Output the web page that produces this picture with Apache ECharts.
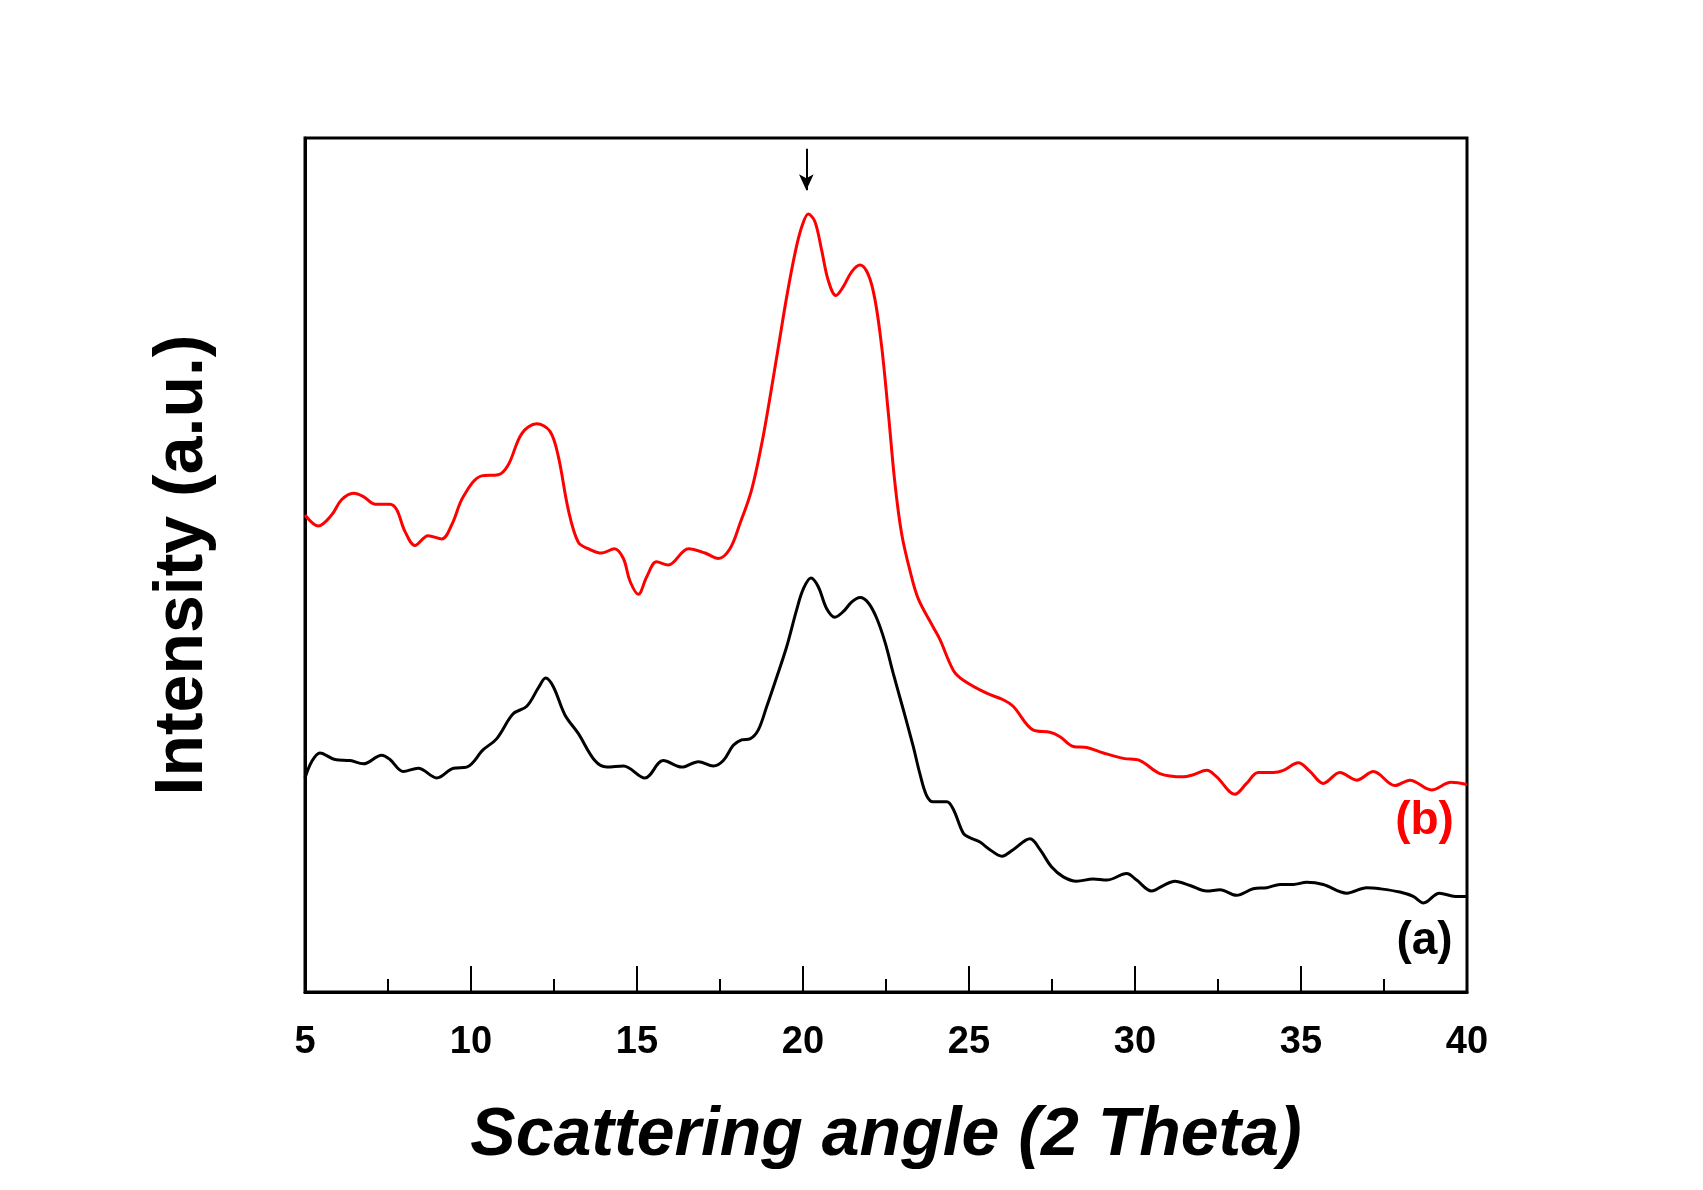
<!DOCTYPE html>
<html>
<head>
<meta charset="utf-8">
<script src="https://cdn.jsdelivr.net/npm/echarts@6/dist/echarts.min.js"></script>
<style>html,body{margin:0;padding:0;background:#fff;}#c{width:1703px;height:1190px;}</style>
</head>
<body>
<div id="c"></div>
<script>
// x: scattering angle (2θ), y: intensity (a.u., arbitrary units)
var sampleB_x = [5.00,5.40,5.80,6.10,6.46,6.76,7.11,7.56,7.76,8.01,8.31,8.71,9.12,9.42,9.77,10.32,10.82,11.12,11.53,11.98,12.38,12.63,12.93,13.23,13.53,13.94,14.32,14.59,14.79,15.04,15.29,15.59,15.94,16.55,17.05,17.45,17.80,18.10,18.45,18.76,19.01,19.26,19.51,19.76,19.96,20.16,20.36,20.56,20.76,20.99,21.21,21.47,21.72,21.97,22.17,22.37,22.57,22.77,22.97,23.22,23.47,23.92,24.13,24.53,24.83,25.53,26.03,26.33,26.94,27.44,27.74,28.14,28.55,29.05,29.65,30.15,30.75,31.45,31.76,32.16,32.46,33.01,33.36,33.71,34.17,34.47,34.92,35.27,35.67,36.17,36.68,37.18,37.83,38.28,38.93,39.52,40.00];
var sampleB_y = [439,429,439,453,459,456,449,449,444,424,411,420,417,430,456,475,476,485,514,523,516,493,444,414,408,404,408,399,378,366,382,396,393,408,404,399,408,431,462,505,548,594,640,680,704,716,709,683,655,641,649,663,669,660,637,594,533,468,422,388,362,336,324,296,287,275,269,263,241,239,235,226,225,220,215,213,201,198,200,204,198,182,192,202,202,204,211,203,192,202,195,203,190,195,186,193,191];

var sampleA_x = [5.00,5.20,5.45,5.90,6.36,6.76,7.31,7.56,7.96,8.41,8.97,9.47,9.87,10.37,10.77,11.27,11.68,12.03,12.25,12.48,12.83,13.23,13.73,14.09,14.59,15.24,15.79,16.35,16.85,17.30,17.60,17.90,18.15,18.40,18.65,18.91,19.21,19.51,19.81,20.01,20.24,20.46,20.71,20.96,21.21,21.47,21.72,21.97,22.22,22.47,22.72,23.02,23.32,23.52,23.72,23.92,24.33,24.53,24.83,25.03,25.33,25.63,25.99,26.33,26.84,27.14,27.49,27.84,28.24,28.74,29.15,29.75,30.05,30.50,30.85,31.20,31.66,32.16,32.56,33.06,33.56,33.97,34.37,34.77,35.17,35.67,36.38,36.98,37.38,37.98,38.38,38.69,39.17,39.65,40.00];
var sampleA_y = [197,212,220,214,213,210,218,214,203,206,197,206,207,223,233,256,263,280,289,281,255,238,213,207,208,197,213,207,212,208,213,227,232,233,241,263,290,318,352,371,381,373,353,345,350,359,363,358,344,322,293,260,226,201,181,175,175,168,146,142,138,131,125,131,141,131,115,106,102,104,103,109,103,93,98,102,98,93,94,89,95,96,99,99,101,99,91,96,95,92,88,82,91,88,88];

var xTicks = [5,10,15,20,25,30,35,40];
var labelB = {text:'(b)', x:38.72, y:157};
var labelA = {text:'(a)', x:38.72, y:47};
var arrowX = 20.10, arrowTop = 776, arrowTip = 738;

function pairs(xs, ys){ return xs.map(function(x,i){ return [x, ys[i]]; }); }

var FONT = 'Liberation Sans, Arial, sans-serif';
var chart = echarts.init(document.getElementById('c'), null, {renderer:'canvas'});
chart.setOption({
  animation:false,
  backgroundColor:'#ffffff',
  grid:{left:305, right:236, top:138, bottom:198, show:true, borderColor:'#000', borderWidth:3, backgroundColor:'transparent'},
  xAxis:{
    type:'value', min:xTicks[0], max:xTicks[xTicks.length-1], interval:5,
    name:'Scattering angle (2 Theta)', nameLocation:'middle', nameGap:110,
    nameTextStyle:{fontFamily:FONT, fontWeight:'bold', fontStyle:'italic', fontSize:68, color:'#000'},
    axisLine:{show:true, lineStyle:{color:'#000', width:3}},
    axisTick:{show:true, inside:true, length:26, lineStyle:{color:'#000', width:2}},
    minorTick:{show:true, splitNumber:2, length:13, lineStyle:{color:'#000', width:2}},
    axisLabel:{margin:32, fontFamily:FONT, fontWeight:'bold', fontSize:38, color:'#000'},
    splitLine:{show:false}
  },
  yAxis:{
    type:'value', min:0, max:786,
    name:'Intensity (a.u.)', nameLocation:'middle', nameGap:88,
    nameTextStyle:{fontFamily:FONT, fontWeight:'bold', fontSize:68, color:'#000'},
    axisLine:{show:true, lineStyle:{color:'#000', width:3}},
    axisTick:{show:false}, axisLabel:{show:false}, splitLine:{show:false}
  },
  series:[
    {
      name:'(a)', type:'line', data:pairs(sampleA_x, sampleA_y), showSymbol:false, smooth:0.35,
      lineStyle:{color:'#000', width:3}, itemStyle:{color:'#000'},
      markPoint:{symbol:'circle', symbolSize:0, data:[{coord:[labelA.x, labelA.y], label:{show:true, formatter:labelA.text, position:'inside', fontFamily:FONT, fontWeight:'bold', fontSize:46, color:'#000'}}]}
    },
    {
      name:'(b)', type:'line', data:pairs(sampleB_x, sampleB_y), showSymbol:false, smooth:0.35,
      lineStyle:{color:'#ff0000', width:3}, itemStyle:{color:'#ff0000'},
      markPoint:{symbol:'circle', symbolSize:0, data:[{coord:[labelB.x, labelB.y], label:{show:true, formatter:labelB.text, position:'inside', fontFamily:FONT, fontWeight:'bold', fontSize:46, color:'#ff0000'}}]},
      markLine:{silent:true, symbol:['none','arrow'], symbolSize:[11,16], label:{show:false},
        lineStyle:{color:'#000', width:2, type:'solid'},
        data:[[{coord:[arrowX, arrowTop]},{coord:[arrowX, arrowTip]}]]}
    }
  ]
});
</script>
</body>
</html>
